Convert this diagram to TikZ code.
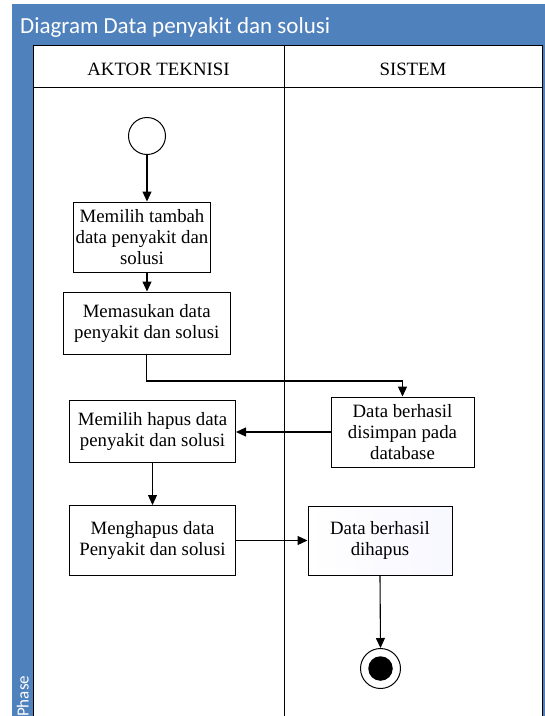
\documentclass[tikz,border=0pt]{standalone}
\usepackage{fontspec}
\setmainfont{Liberation Serif}
\newfontfamily\titlefont{Carlito}
\usetikzlibrary{arrows.meta}
\definecolor{laneblue}{RGB}{79,129,189}
\tikzset{
  actbox/.style={draw=black, line width=1pt, fill=white, align=center, inner sep=2pt,
    font=\fontsize{18.8}{21}\selectfont},
  flow/.style={draw=black, line width=1.1pt, -{Triangle[length=10pt,width=9pt]}},
  lane/.style={draw=black, line width=1pt},
  headtext/.style={font=\fontsize{18.8}{21}\selectfont, anchor=base, inner sep=0pt},
}
\begin{document}
\begin{tikzpicture}[x=1pt,y=-1pt]
\useasboundingbox (0,0) rectangle (545,716);
% swimlane frame
\fill[laneblue] (12,4) rectangle (545,716);
\fill[white] (33,45) rectangle (542,716);
\draw[lane] (33,716) -- (33,45) -- (542,45) -- (542,716);
\draw[lane] (33,87) -- (542,87);
\draw[lane] (284,45) -- (284,716);
\node[anchor=base west, inner sep=0pt, text=white, font=\titlefont\fontsize{23}{26}\selectfont]
  (title) at (20,33) {Diagram Data penyakit dan solusi};
\node[anchor=base west, inner sep=0pt, rotate=90, text=white, font=\titlefont\fontsize{17}{19}\selectfont]
  (phase) at (28.5,717) {Phase};
\node[headtext] (h1) at (158.5,75.5) {AKTOR TEKNISI};
\node[headtext] (h2) at (413,75.5) {SISTEM};
% activity nodes
\node[draw=black, line width=1pt, fill=white, circle, minimum size=37pt, inner sep=0pt] (start) at (147,136) {};
\node[actbox, minimum width=134pt, minimum height=70pt] (b1) at (142,237)
  {Memilih tambah\\data penyakit dan\\solusi};
\node[actbox, minimum width=167pt, minimum height=62pt] (b2) at (146.7,323)
  {Memasukan data\\penyakit dan solusi};
\node[actbox, minimum width=143pt, minimum height=70pt] (b3) at (402.5,432)
  {Data berhasil\\disimpan pada\\database};
\node[actbox, minimum width=166pt, minimum height=62pt] (b4) at (152.5,431.5)
  {Memilih hapus data\\penyakit dan solusi};
\node[actbox, minimum width=166pt, minimum height=70pt] (b5) at (152.5,540.5)
  {Menghapus data\\Penyakit dan solusi};
\node[actbox, minimum width=144pt, minimum height=69pt, left color=white, right color=blue!3] (b6) at (380,540.5)
  {Data berhasil\\dihapus};
\node[draw=black, line width=1pt, fill=white, circle, minimum size=40pt, inner sep=0pt] (stop) at (380.5,668.5) {};
\node[fill=black, circle, minimum size=24.5pt, inner sep=0pt] (stopdot) at (stop.center) {};
\coordinate (bend) at (146.7,381);
% connectors
\draw[flow] (start.south) -- (start.south |- b1.north);
\draw[flow] (start.south |- b1.south) -- (start.south |- b2.north);
\draw[flow] (b2.south) -- (bend) -| (b3.north);
\draw[flow] (b3.west) -- (b3.west -| b4.east);
\draw[flow] (b4.south) -- (b5.north);
\draw[flow] (b5.east) -- (b6.west);
\draw[flow] (b6.south) -- (stop.north);
\end{tikzpicture}
\end{document}
